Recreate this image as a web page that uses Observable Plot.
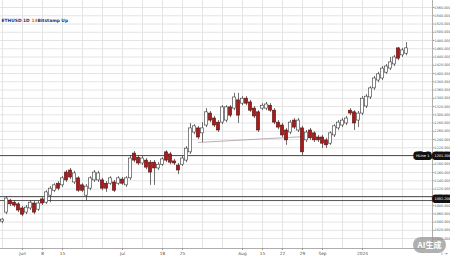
<!DOCTYPE html>
<html><head><meta charset="utf-8">
<script src="https://cdn.jsdelivr.net/npm/d3@7"></script>
<script src="https://cdn.jsdelivr.net/npm/@observablehq/plot@0.6"></script>
<style>
html,body{margin:0;padding:0;background:#fff;}
#wrap{position:relative;width:450px;height:257px;overflow:hidden;font-family:"DejaVu Sans",sans-serif;}
#wm{position:absolute;left:413px;top:237px;width:33px;height:16px;border-radius:8px;background:rgba(150,150,150,0.75);color:#fff;font:bold 8px "Noto Sans CJK SC",sans-serif;line-height:16px;text-align:center;}
</style></head>
<body><div id="wrap"><div id="chart"></div><div id="wm">AI生成</div></div>
<script>
const opens  = [1041,1063,1092,1087,1083,1073,1063,1073,1085,1070,1095,1087,1104,1116,1133,1129,1160,1165,1136,1146,1129,1104,1121,1141,1141,1141,1133,1133,1136,1133,1143,1129,1146,1206,1196,1182,1189,1184,1184,1170,1179,1209,1204,1187,1177,1179,1189,1209,1257,1267,1255,1274,1303,1291,1281,1281,1286,1318,1315,1335,1327,1339,1330,1315,1306,1315,1315,1322,1310,1281,1274,1262,1257,1286,1262,1267,1238,1262,1255,1245,1245,1238,1230,1250,1267,1274,1279,1310,1306,1286,1303,1320,1342,1364,1383,1388,1402,1412,1422,1461,1444,1448];
const closes = [1046,1097,1083,1080,1068,1058,1075,1087,1063,1085,1085,1112,1121,1129,1121,1146,1141,1148,1158,1116,1116,1126,1146,1160,1158,1121,1121,1146,1116,1146,1133,1146,1194,1189,1182,1194,1172,1160,1170,1179,1192,1189,1184,1182,1165,1194,1218,1267,1272,1245,1267,1306,1286,1274,1262,1318,1318,1298,1342,1298,1339,1327,1310,1296,1262,1322,1325,1310,1281,1269,1250,1238,1281,1269,1286,1209,1257,1243,1238,1238,1230,1226,1255,1272,1281,1286,1291,1303,1279,1303,1339,1344,1364,1388,1398,1412,1417,1427,1439,1436,1456,1461];
const highs  = [1049,1102,1095,1092,1087,1078,1080,1092,1090,1090,1099,1116,1126,1133,1138,1150,1165,1170,1163,1150,1133,1131,1150,1165,1163,1146,1138,1150,1141,1150,1148,1150,1201,1211,1201,1199,1194,1189,1189,1184,1196,1213,1209,1192,1182,1199,1223,1279,1276,1272,1281,1315,1308,1296,1286,1322,1322,1322,1352,1352,1344,1344,1335,1320,1310,1327,1330,1327,1315,1286,1279,1267,1286,1291,1291,1272,1262,1267,1259,1250,1250,1243,1259,1276,1286,1291,1296,1315,1310,1308,1344,1349,1368,1393,1403,1417,1422,1439,1444,1463,1461,1475];
const lows   = [1036,1058,1078,1075,1063,1053,1058,1068,1058,1066,1080,1083,1087,1112,1116,1124,1136,1143,1131,1112,1112,1092,1116,1136,1136,1116,1112,1129,1112,1129,1129,1124,1141,1184,1177,1177,1167,1129,1129,1165,1175,1184,1179,1177,1155,1175,1184,1204,1252,1240,1233,1269,1281,1269,1257,1276,1281,1293,1310,1279,1322,1322,1306,1291,1257,1310,1310,1306,1276,1264,1245,1226,1252,1264,1257,1201,1233,1238,1233,1233,1218,1218,1226,1245,1262,1269,1274,1298,1262,1269,1298,1315,1337,1359,1378,1383,1398,1407,1417,1431,1439,1443];
const levels = [1201.3, 1101.9, 1092.2];
const trendIdx = [49, 75];
const trendPrice = [1233, 1247];
const yTicks = d3.range(1000, 1561, 20);
const xLabelIdx = [5,10,15,30,40,45,60,65,70,75,80,90];
const xLabels = ["Jun","8","15","Jul","18","25","Aug","15","22","29","Sep","2024"];
const gridXIdx = d3.range(0, 106, 5);

const candles = opens.map((o,i)=>({i, o, c:closes[i], h:highs[i], l:lows[i], up: closes[i]>=o}));
const trend = trendIdx.map((t,k)=>({i:t, p:trendPrice[k]}));
const fmt = d3.format(".3f");

const chart = Plot.plot({
  width: 450, height: 257,
  marginLeft: 0, marginRight: 18, marginTop: 0, marginBottom: 9,
  style: {background:"#fff", fontFamily:"DejaVu Sans, sans-serif"},
  x: {type:"linear", domain:[-0.5,107.5]},
  y: {domain:[976,1577]},
  marks: [
    Plot.gridY(yTicks, {stroke:"#e4e4e4", strokeOpacity:1}),
    Plot.gridX(gridXIdx, {stroke:"#e4e4e4", strokeOpacity:1}),
    Plot.ruleY(levels, {stroke:"#555", strokeWidth:1}),
    Plot.line(trend, {x:"i", y:"p", stroke:"#a08a9c", strokeWidth:0.7}),
    Plot.ruleX(candles, {x:"i", y1:"l", y2:"h", stroke:"#333", strokeWidth:0.7}),
    Plot.rect(candles, {x1:d=>d.i-0.4, x2:d=>d.i+0.4, y1:"o", y2:"c",
      fill:d=>d.up?"#fff":"#a51c1c", stroke:d=>d.up?"#333":"#5a1010", strokeWidth:0.6}),
    Plot.ruleX([107.5], {stroke:"#999", strokeWidth:0.8}),
    Plot.ruleY([976], {stroke:"#999", strokeWidth:0.8}),
    Plot.axisY(yTicks, {anchor:"right", tickSize:1.5, tickPadding:0.5, tickFormat:fmt, fontSize:3.4, fill:"#555", stroke:"#999"}),
    Plot.axisX(xLabelIdx, {tickSize:2, tickPadding:1, tickFormat:(d)=>xLabels[xLabelIdx.indexOf(d)], fontSize:4.3, fill:"#555", stroke:"#999"}),
    Plot.text([levels[0]], {x:107.5, y:d=>d, text:d=>fmt(d), textAnchor:"start", dx:2, fontSize:3.4, fill:"#fff", stroke:"#111", strokeWidth:6, paintOrder:"stroke"}),
    Plot.text([levels[0]], {x:107.5, y:d=>d, text:()=>"HLine 1", textAnchor:"end", dx:-3, fontSize:3.6, fill:"#fff", stroke:"#111", strokeWidth:6, paintOrder:"stroke"}),
    Plot.text([levels[2]], {x:107.5, y:d=>d, text:d=>fmt(d), textAnchor:"start", dx:2, dy:-2, fontSize:3.4, fill:"#fff", stroke:"#111", strokeWidth:6, paintOrder:"stroke"}),
    Plot.text(["ETHUSD 1D"], {frameAnchor:"top-left", dx:1, dy:18, text:d=>d, textAnchor:"start", fontSize:4.4, fontWeight:"bold", fill:"#2a2f7a"}),
    Plot.text(["13"], {frameAnchor:"top-left", dx:31, dy:18, text:d=>d, textAnchor:"start", fontSize:4.4, fontWeight:"bold", fill:"#e06a1a"}),
    Plot.text(["Bitstamp Up"], {frameAnchor:"top-left", dx:37, dy:18, text:d=>d, textAnchor:"start", fontSize:4.4, fontWeight:"bold", fill:"#2a2f7a"})
  ]
});
document.getElementById("chart").appendChild(chart);
</script></body></html>
